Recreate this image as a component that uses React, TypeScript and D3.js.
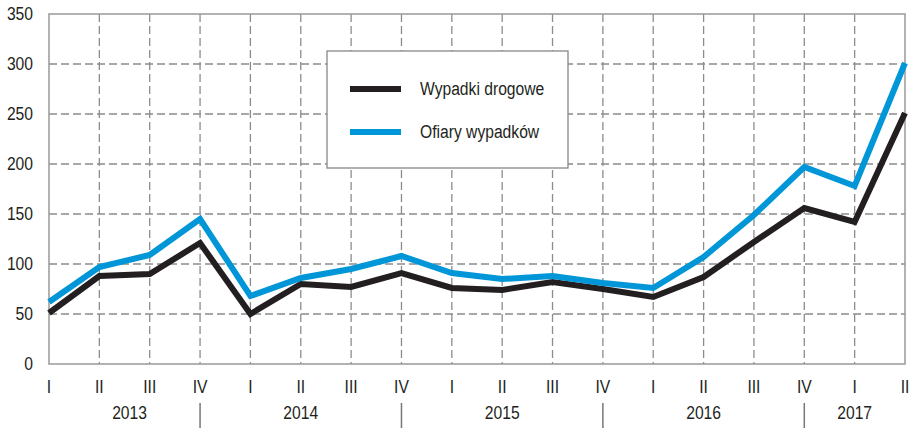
import React from 'react';
import * as d3 from 'd3';

// quarter labels, one per data point
const quarters = ['I', 'II', 'III', 'IV', 'I', 'II', 'III', 'IV', 'I', 'II', 'III', 'IV', 'I', 'II', 'III', 'IV', 'I', 'II'];
// years and how many quarters each covers
const years = ['2013', '2014', '2015', '2016', '2017'];
const yearQuarters = [4, 4, 4, 4, 2];

const wypadki = [51, 88, 90, 121, 50, 80, 77, 91, 76, 74, 82, 75, 67, 87, 122, 156, 142, 251];
const ofiary = [62, 97, 109, 145, 68, 86, 95, 108, 91, 85, 88, 81, 76, 107, 149, 197, 178, 301];

const yTicks = [0, 50, 100, 150, 200, 250, 300, 350];

const seriesNames = ['Wypadki drogowe', 'Ofiary wypadków'];
const seriesColors = ['#231f20', '#0096d8'];

const W = 912;
const H = 428;
const margin = { top: 14, right: 7, bottom: 64, left: 49 };
const FONT = '"Liberation Sans", Arial, sans-serif';
const GRID = '#8c8c8c';
const NARROW = 0.87; // the original uses a condensed face

// text squeezed horizontally to mimic a narrow font
const NText = ({ x, y, anchor = 'start', children }:
  { x: number; y: number; anchor?: string; children: React.ReactNode }) => (
  <text transform={`translate(${x},${y}) scale(${NARROW},1)`} dy="0.35em" textAnchor={anchor}
    fontSize={18} fill="#231f20">{children}</text>
);

export default function App() {
  const x = d3.scaleLinear()
    .domain([0, quarters.length - 1])
    .range([margin.left, W - margin.right]);
  const y = d3.scaleLinear()
    .domain([0, 350])
    .range([H - margin.bottom, margin.top]);

  const line = d3.line<number>()
    .x((_, i) => x(i))
    .y(d => y(d));

  const series = [wypadki, ofiary];

  // year boundaries: separator sits under the last quarter of each year
  let acc = 0;
  const yearSpans = years.map((yr, i) => {
    const start = acc === 0 ? 0.2 : acc - 1;
    acc += yearQuarters[i];
    const end = Math.min(acc - 1, quarters.length - 1);
    return { yr, start, end, last: i === years.length - 1 };
  });

  const x0 = margin.left;
  const x1 = W - margin.right;
  const yTop = margin.top;
  const yBot = H - margin.bottom;

  return (
    <svg width={W} height={H} style={{ position: 'absolute', left: 0, top: 0, background: '#fff' }}
      fontFamily={FONT}>
      {/* horizontal grid */}
      {yTicks.slice(1, -1).map(t => (
        <line key={'h' + t} x1={x0} x2={x1} y1={y(t)} y2={y(t)}
          stroke={GRID} strokeWidth={1.3} strokeDasharray="8,4" />
      ))}
      {/* vertical grid */}
      {quarters.slice(1, -1).map((_, i) => (
        <line key={'v' + i} x1={x(i + 1)} x2={x(i + 1)} y1={yTop} y2={yBot}
          stroke={GRID} strokeWidth={1.3} strokeDasharray="8,4" />
      ))}
      {/* frame */}
      <rect x={x0} y={yTop} width={x1 - x0} height={yBot - yTop}
        fill="none" stroke="#999" strokeWidth={1.5} />

      {/* y labels */}
      {yTicks.map(t => (
        <NText key={'yl' + t} x={33} y={y(t)} anchor="end">{t}</NText>
      ))}

      {/* quarter labels */}
      {quarters.map((q, i) => (
        <NText key={'q' + i} x={x(i)} y={387} anchor="middle">{q}</NText>
      ))}

      {/* year labels and separators */}
      {yearSpans.map(s => (
        <g key={s.yr}>
          <NText x={(x(s.start) + x(s.end)) / 2} y={413} anchor="middle">{s.yr}</NText>
          {!s.last && (
            <line x1={x(s.end)} x2={x(s.end)} y1={403} y2={428} stroke="#777" strokeWidth={1.5} />
          )}
        </g>
      ))}

      {/* data lines */}
      {series.map((d, i) => (
        <path key={'s' + i} d={line(d) || ''} fill="none" stroke={seriesColors[i]}
          strokeWidth={6} strokeLinejoin="miter" />
      ))}

      {/* legend */}
      <g>
        <rect x={327} y={51} width={241} height={117} fill="#fff" stroke="#888" strokeWidth={1.3} />
        {seriesNames.map((n, i) => (
          <g key={n} transform={`translate(350,${89 + i * 43})`}>
            <line x1={0} x2={51} y1={0} y2={0} stroke={seriesColors[i]} strokeWidth={6} />
            <NText x={70} y={0}>{n}</NText>
          </g>
        ))}
      </g>
    </svg>
  );
}
